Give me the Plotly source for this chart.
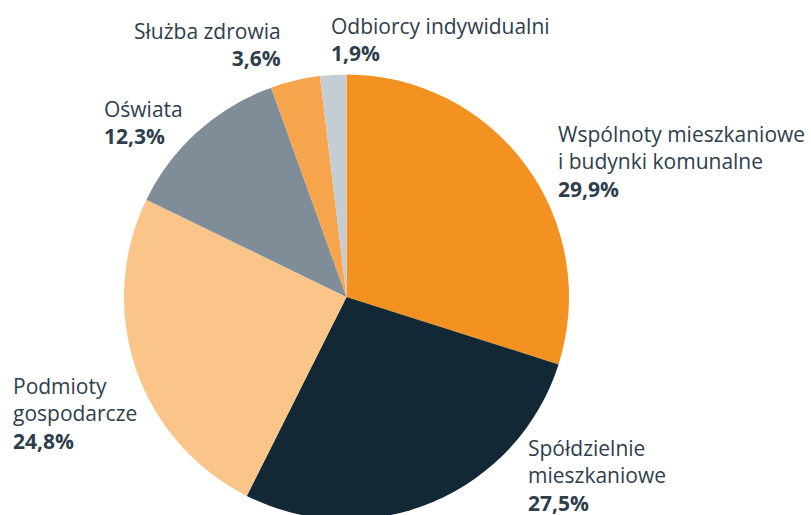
import plotly.graph_objects as go

categories = [
    "Wspólnoty mieszkaniowe<br>i budynki komunalne",
    "Spółdzielnie<br>mieszkaniowe",
    "Podmioty<br>gospodarcze",
    "Oświata",
    "Służba zdrowia",
    "Odbiorcy indywidualni",
]
values = [29.9, 27.5, 24.8, 12.3, 3.6, 1.9]

colors = ["#F39121", "#132835", "#FBC58A", "#7F8D98", "#F7A54C", "#C4CDD3"]

W, H = 811, 520

fig = go.Figure(
    go.Pie(
        labels=[c.replace("<br>", " ") for c in categories],
        values=values,
        sort=False,
        direction="clockwise",
        rotation=0,
        marker=dict(colors=colors, line=dict(width=0)),
        textinfo="none",
        hoverinfo="skip",
        domain=dict(x=[124 / W, 569 / W], y=[0.5 / H, 1 - 74.5 / H]),
    )
)

# label block anchors in pixels (left x or right x, top y), align
label_pos = [
    (557, 119, "left"),
    (527, 433, "left"),
    (12, 371, "left"),
    (103, 94, "left"),
    (282, 16, "right"),
    (330, 11, "left"),
]

FONT = "Open Sans"
for cat, v, (px, py, al) in zip(categories, values, label_pos):
    txt = f"{cat}<br><b>{v:.1f}%</b>".replace(".", ",")
    fig.add_annotation(
        x=px / W, y=1 - py / H, xref="paper", yref="paper",
        xanchor=al, yanchor="top", align=al,
        text=txt, showarrow=False,
        font=dict(family=FONT, size=21, color="#2E3E4C"),
        borderpad=0,
    )

fig.update_layout(
    width=W, height=H,
    margin=dict(l=0, r=0, t=0, b=0),
    showlegend=False,
    paper_bgcolor="white",
    plot_bgcolor="white",
)

fig.write_html(
    "out.html",
    config={"displayModeBar": False, "staticPlot": True},
    post_script="document.body.style.margin='0';document.body.style.overflow='hidden';document.documentElement.style.overflow='hidden';",
)
